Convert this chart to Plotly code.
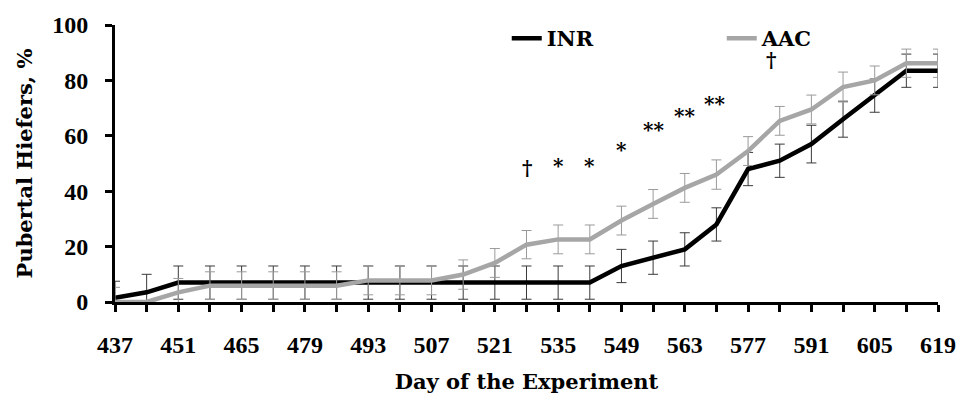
import plotly.graph_objects as go

days = [437, 444, 451, 458, 465, 472, 479, 486, 493, 500, 507, 514, 521, 528,
        535, 542, 549, 556, 563, 570, 577, 584, 591, 598, 605, 612, 619]
inr = [1.5, 3.5, 7, 7, 7, 7, 7, 7, 7, 7, 7, 7, 7, 7, 7, 7,
       13, 16, 19, 28, 48, 51, 57, 66, 74.5, 83.5, 83.5]
inr_err = [6, 6.5, 6, 6, 6, 6, 6, 6, 6, 6, 6, 6, 6, 6, 6, 6,
           6, 6, 6, 6, 6, 6, 6.8, 6.5, 6, 6, 6]
aac = [0, 0, 3.5, 5.9, 5.9, 5.9, 5.9, 5.9, 7.8, 7.8, 7.8, 9.9, 14.1, 20.7,
       22.6, 22.6, 29.4, 35.4, 41.2, 46, 54.5, 65.4, 69.5, 77.6, 80, 86.2, 86.2]
aac_err = [5.3, 0, 5, 5, 5, 5, 5, 5, 5.2, 5.2, 5.2, 5.3, 5.2, 5.1,
           5.2, 5.2, 5.2, 5.2, 5.2, 5.3, 5.2, 5.2, 5.2, 5.4, 5.2, 5.1, 5.1]

tick_vals = days
tick_text = [str(d) if (d - 437) % 14 == 0 else "" for d in days]

sig_text = ["†", "*", "*", "*", "**", "**", "**", "†"]
sig_x = [528, 535, 542, 549, 556, 563, 569.5, 582]
sig_y = [48.5, 49, 49, 55, 62, 67, 71.5, 87.5]

TFONT = "DejaVu Serif"
NFONT = "Liberation Serif"

fig = go.Figure()
fig.add_trace(go.Scatter(
    x=days, y=inr, mode="lines", name="INR",
    line=dict(color="#000000", width=4.5),
    error_y=dict(type="data", array=inr_err, color="#3a3a3a", thickness=1, width=5),
    cliponaxis=False,
))
fig.add_trace(go.Scatter(
    x=days, y=aac, mode="lines", name="AAC",
    line=dict(color="#a6a6a6", width=4.5),
    error_y=dict(type="data", array=aac_err, color="#9a9a9a", thickness=1, width=5),
    cliponaxis=False,
))

for t, xx, yy in zip(sig_text, sig_x, sig_y):
    fig.add_annotation(x=xx, y=yy, text=t, showarrow=False,
                       font=dict(family=TFONT, size=20, color="#000", weight="bold"))

fig.update_layout(
    width=963, height=396,
    margin=dict(l=115, r=25, t=25, b=94, autoexpand=False),
    plot_bgcolor="white", paper_bgcolor="white",
    font=dict(family=TFONT, size=21, color="#000"),
    showlegend=True,
    legend=dict(orientation="h", x=0.476, y=1.025, xanchor="left", yanchor="top",
                bgcolor="rgba(0,0,0,0)", entrywidth=170, entrywidthmode="pixels",
                font=dict(family=TFONT, size=21, color="#000", weight="bold")),
    xaxis=dict(
        range=[437, 619], tickmode="array", tickvals=tick_vals, ticktext=tick_text,
        ticks="outside", ticklen=7, tickwidth=3, tickcolor="#000",
        showline=True, linecolor="#000", linewidth=3, showgrid=False, zeroline=False,
        ticklabelstandoff=12,
        tickfont=dict(family=NFONT, size=24, color="#000", weight="bold"),
        title=dict(text="Day of the Experiment", standoff=18,
                   font=dict(family=TFONT, size=21, color="#000", weight="bold")),
    ),
    yaxis=dict(
        range=[0, 100], tickvals=[0, 20, 40, 60, 80, 100],
        ticks="outside", ticklen=7, tickwidth=3, tickcolor="#000",
        showline=True, linecolor="#000", linewidth=3, showgrid=False, zeroline=False,
        ticklabelstandoff=12,
        tickfont=dict(family=NFONT, size=24, color="#000", weight="bold"),
        title=dict(text="Pubertal Hiefers, %", standoff=14,
                   font=dict(family=TFONT, size=21, color="#000", weight="bold")),
    ),
)

fig.write_html("out.html",
               config={"displayModeBar": False},
               post_script="document.body.style.margin='0';document.body.style.overflow='hidden';")
